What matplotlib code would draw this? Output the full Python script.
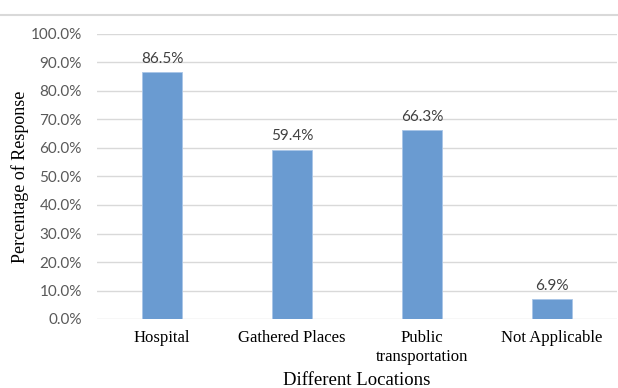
import matplotlib
matplotlib.use("Agg")
import matplotlib.pyplot as plt
from matplotlib.lines import Line2D

locations = ["Hospital", "Gathered Places", "Public\ntransportation", "Not Applicable"]
responses = [86.5, 59.4, 66.3, 6.9]
y_ticks = [0, 10, 20, 30, 40, 50, 60, 70, 80, 90, 100]

BAR_COLOR = "#6a9bd1"
GRID_COLOR = "#d9d9d9"
TICK_COLOR = "#595959"
SERIF = "Liberation Serif"
SANS = "Lato"

fig = plt.figure(figsize=(6.18, 3.88), dpi=100)
ax = fig.add_axes([97 / 618, 69 / 388, 520 / 618, 285 / 388])

x = range(len(locations))
bars = ax.bar(x, responses, width=0.31, color=BAR_COLOR,
              edgecolor="#a9c6e8", linewidth=0.6, zorder=3)

for bar, val in zip(bars, responses):
    ax.text(bar.get_x() + bar.get_width() / 2, val + 2.2, f"{val:.1f}%",
            ha="center", va="bottom", fontsize=11, color="#404040", family=SANS)

ax.set_xlim(-0.5, len(locations) - 0.5)
ax.set_ylim(0, 100)
ax.set_yticks(y_ticks)
ax.set_yticklabels([f"{t:.1f}%" for t in y_ticks], fontsize=11,
                   color=TICK_COLOR, family=SANS)
ax.set_xticks(list(x))
ax.set_xticklabels(locations, fontsize=12, family=SERIF, color="black",
                   linespacing=1.25)
ax.tick_params(axis="both", length=0)
ax.tick_params(axis="x", pad=8)
ax.tick_params(axis="y", pad=11)

ax.grid(axis="y", color=GRID_COLOR, linewidth=1.0, zorder=0)
for spine in ax.spines.values():
    spine.set_visible(False)

ax.set_xlabel("Different Locations", fontsize=13.5, family=SERIF, labelpad=5)
ax.set_ylabel("Percentage of Response", fontsize=13, family=SERIF, labelpad=1)

# thin border along the top of the figure
fig.add_artist(Line2D([0, 1], [1 - 15 / 388] * 2, transform=fig.transFigure,
                      color=GRID_COLOR, linewidth=1.5))

fig.savefig("out.png", dpi=100)
